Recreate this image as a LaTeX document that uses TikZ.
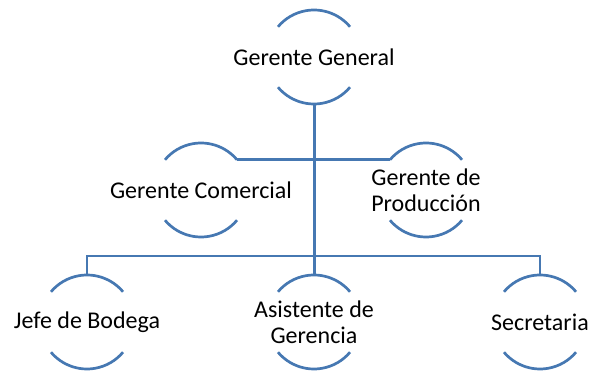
\documentclass[tikz,border=0pt]{standalone}
\usepackage{fontspec}
\setmainfont{Carlito}
\definecolor{azul}{RGB}{70,120,178}
\tikzset{
	puesto/.style={circle, minimum size=94pt, inner sep=0pt, outer sep=0pt},
	texto/.style={font=\fontsize{24}{26}\selectfont, align=center, text=black},
	arco/.style={draw=azul, line width=2.7pt},
	conector/.style={draw=azul, line width=2.7pt},
}

\begin{document}
\begin{tikzpicture}[x=1pt, y=-1pt]
	\useasboundingbox (0,0) rectangle (592,371);
	% puestos
	\node[puesto, label={[texto]center:Gerente General}] (gg) at (314,57) {};
	\node[puesto, label={[texto]center:Gerente Comercial}] (gc) at (201,190) {};
	\node[puesto, label={[texto]center:{Gerente de\\Producción}}] (gp) at (426,190) {};
	\node[puesto, label={[texto]center:Jefe de Bodega}] (jb) at (87,322) {};
	\node[puesto, label={[texto]center:{Asistente de\\Gerencia}}] (ag) at (314,322) {};
	\node[puesto, label={[texto]center:Secretaria}] (sc) at (540,322) {};
	% arcos
	\foreach \n in {gg,gc,gp,jb,ag,sc}
		\draw[arco] (\n.40) arc[start angle=40, end angle=140, radius=47pt]
		            (\n.220) arc[start angle=220, end angle=320, radius=47pt];
	% conectores
	\draw[conector, line width=3pt] (gg.south) -- (ag.north);
	\draw[conector] (jb.north) -- ++(0,-19) -| (sc.north);
	\draw[conector] (gc.40) -- (gc.40 -| gg.south);
	\draw[conector] (gp.140) -- (gp.140 -| gg.south);
\end{tikzpicture}
\end{document}
